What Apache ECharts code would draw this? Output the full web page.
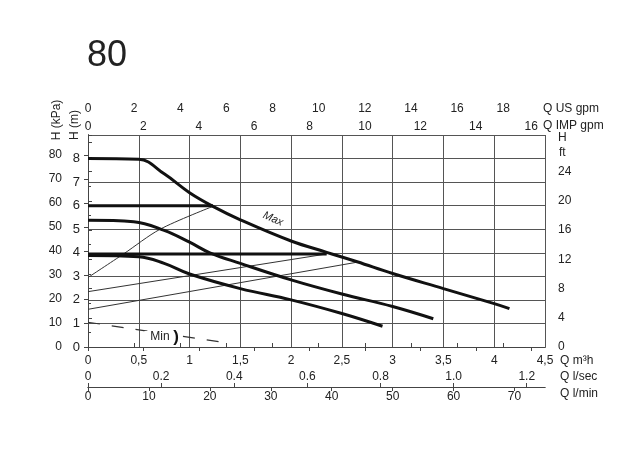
<!DOCTYPE html>
<html>
<head>
<meta charset="utf-8">
<script src="https://cdn.jsdelivr.net/npm/echarts@6/dist/echarts.min.js"></script>
<style>
  html, body { margin: 0; padding: 0; background: #fff; }
  #chart { width: 640px; height: 461px; }
</style>
</head>
<body>
<div id="chart"></div>
<script>
// pump curves, flow Q in m3/h, head H in m
const maxQ = [0, 0.5, 0.75, 1.0, 1.23, 1.5, 2.0, 2.35, 2.65, 3.0, 3.5, 4.0, 4.15];
const maxH = [8.0, 7.97, 7.35, 6.55, 5.97, 5.4, 4.5, 4.02, 3.62, 3.12, 2.48, 1.84, 1.63];
const midQ = [0, 0.45, 0.75, 1.0, 1.2, 1.5, 2.0, 2.5, 3.0, 3.4];
const midH = [5.38, 5.32, 4.95, 4.45, 4.0, 3.55, 2.85, 2.25, 1.72, 1.2];
const lowQ = [0, 0.5, 0.75, 1.0, 1.5, 2.0, 2.5, 2.9];
const lowH = [3.88, 3.83, 3.55, 3.1, 2.48, 2.0, 1.42, 0.88];

// constant pressure lines
const cp6Q = [0, 1.23];
const cp6H = [6.0, 6.0];
const cp4Q = [0, 2.35];
const cp4H = [3.95, 3.95];

// proportional pressure lines
const pp1Q = [0, 0.35, 0.71, 1.23];
const pp1H = [2.95, 3.95, 5.0, 5.97];
const pp2Q = [0, 2.35];
const pp2H = [2.35, 3.95];
const pp3Q = [0, 2.65];
const pp3H = [1.6, 3.6];

// min curve (dashed)
const minQ = [0, 1.33];
const minH = [1.05, 0.2];

// axis ranges (same span, other units)
const qMaxM3h = 4.5;
const hMaxM = 9;
const usGpmMax = 19.81;
const impGpmMax = 16.5;
const lsecMax = 1.25;
const lminMax = 75;
const kpaMax = 88.3;
const ftMax = 29;

const zip = (a, b) => a.map((v, i) => [v, b[i]]);

const FONT = "'Liberation Sans Narrow', 'Liberation Sans', Arial, sans-serif";
const TXT = '#222';
const GRIDC = '#555';

const chart = echarts.init(document.getElementById('chart'));

function thick(name, q, h) {
  return {
    name: name, type: 'line', data: zip(q, h),
    showSymbol: false, smooth: 0.4,
    lineStyle: { color: '#111', width: 3 }, z: 5
  };
}
function thin(name, q, h, smooth) {
  return {
    name: name, type: 'line', data: zip(q, h),
    showSymbol: false, smooth: smooth ? 0.3 : false,
    lineStyle: { color: '#333', width: 1 }, z: 4
  };
}

const labelBase = { color: TXT, fontFamily: FONT, fontSize: 12 };

chart.setOption({
  animation: false,
  backgroundColor: '#fff',
  grid: { left: 88, right: 95, top: 135, bottom: 114 },
  xAxis: [
    {
      type: 'value', min: 0, max: qMaxM3h, interval: 0.5, position: 'bottom',
      axisLine: { lineStyle: { color: '#333', width: 1 } },
      axisTick: { show: false },
      splitLine: { lineStyle: { color: GRIDC, width: 1 } },
      axisLabel: Object.assign({}, labelBase, { margin: 8, formatter: v => String(v).replace('.', ',') })
    },
    {
      type: 'value', min: 0, max: usGpmMax, interval: 2, position: 'top', offset: 17,
      axisLine: { show: true, lineStyle: { color: '#444' } },
      axisTick: { show: true, length: 4, lineStyle: { color: '#444' } },
      splitLine: { show: false },
      axisLabel: Object.assign({}, labelBase, { margin: 3, showMaxLabel: false })
    },
    {
      type: 'value', min: 0, max: impGpmMax, interval: 2, position: 'top', offset: 17,
      axisLine: { show: true, lineStyle: { color: '#444' } },
      axisTick: { show: true, inside: true, length: 4, lineStyle: { color: '#444' } },
      splitLine: { show: false },
      axisLabel: Object.assign({}, labelBase, { inside: true, margin: 3, showMaxLabel: false })
    },
    {
      type: 'value', min: 0, max: lsecMax, interval: 0.2, position: 'bottom', offset: 40,
      axisLine: { show: true, lineStyle: { color: '#444' } },
      axisTick: { show: true, inside: true, length: 4, lineStyle: { color: '#444' } },
      splitLine: { show: false },
      axisLabel: Object.assign({}, labelBase, {
        inside: true, margin: 4, showMaxLabel: false,
        formatter: v => (v === 0 ? '0' : v.toFixed(1))
      })
    },
    {
      type: 'value', min: 0, max: lminMax, interval: 10, position: 'bottom', offset: 40,
      axisLine: { show: true, lineStyle: { color: '#444' } },
      axisTick: { show: true, length: 4, lineStyle: { color: '#444' } },
      splitLine: { show: false },
      axisLabel: Object.assign({}, labelBase, { margin: 4, showMaxLabel: false })
    }
  ],
  yAxis: [
    {
      type: 'value', min: 0, max: hMaxM, interval: 1, position: 'left',
      axisLine: { show: true, lineStyle: { color: '#333' } },
      axisTick: { show: false },
      splitLine: { lineStyle: { color: GRIDC, width: 1 } },
      axisLabel: Object.assign({}, labelBase, { fontSize: 13, margin: 8, showMaxLabel: false })
    },
    {
      type: 'value', min: 0, max: kpaMax, interval: 10, position: 'left', offset: 20,
      axisLine: { show: true, lineStyle: { color: '#444' } },
      axisTick: { show: true, length: 4, lineStyle: { color: '#444' } },
      splitLine: { show: false },
      axisLabel: Object.assign({}, labelBase, { margin: 6, showMaxLabel: false })
    },
    {
      type: 'value', min: 0, max: ftMax, interval: 4, position: 'right', offset: 10,
      axisLine: { show: true, lineStyle: { color: '#444' } },
      axisTick: { show: true, length: 4, lineStyle: { color: '#444' } },
      minorTick: { show: true, splitNumber: 2, length: 3, lineStyle: { color: '#444' } },
      splitLine: { show: false },
      axisLabel: Object.assign({}, labelBase, { margin: 3, showMaxLabel: false, formatter: v => (v > 26 ? '' : String(v)) })
    }
  ],
  series: [
    thick('Max', maxQ, maxH),
    thick('Mid', midQ, midH),
    thick('Low', lowQ, lowH),
    thick('CP6', cp6Q, cp6H),
    thick('CP4', cp4Q, cp4H),
    thin('PP1', pp1Q, pp1H, true),
    thin('PP2', pp2Q, pp2H, false),
    thin('PP3', pp3Q, pp3H, false),
    {
      name: 'Min', type: 'line', data: zip(minQ, minH), showSymbol: false,
      lineStyle: { color: '#333', width: 1.2, type: [12, 12] }, z: 3
    }
  ],
  graphic: [
    { type: 'text', x: 87, y: 56, style: { text: '80', font: '300 36px ' + FONT, fill: TXT, textVerticalAlign: 'middle' } },
    { type: 'text', x: 57, y: 120, rotation: Math.PI / 2, style: { text: 'H (kPa)', font: '12px ' + FONT, fill: TXT, textAlign: 'center', textVerticalAlign: 'middle' } },
    { type: 'text', x: 75, y: 125, rotation: Math.PI / 2, style: { text: 'H (m)', font: '12px ' + FONT, fill: TXT, textAlign: 'center', textVerticalAlign: 'middle' } },
    { type: 'text', x: 543, y: 109, style: { text: 'Q US gpm', font: '12px ' + FONT, fill: TXT, textVerticalAlign: 'middle' } },
    { type: 'text', x: 543, y: 126, style: { text: 'Q IMP gpm', font: '12px ' + FONT, fill: TXT, textVerticalAlign: 'middle' } },
    { type: 'text', x: 558, y: 138, style: { text: 'H', font: '12px ' + FONT, fill: TXT, textVerticalAlign: 'middle' } },
    { type: 'text', x: 559, y: 153, style: { text: 'ft', font: '12px ' + FONT, fill: TXT, textVerticalAlign: 'middle' } },
    { type: 'text', x: 560, y: 361, style: { text: 'Q m³h', font: '12px ' + FONT, fill: TXT, textVerticalAlign: 'middle' } },
    { type: 'text', x: 560, y: 377, style: { text: 'Q l/sec', font: '12px ' + FONT, fill: TXT, textVerticalAlign: 'middle' } },
    { type: 'text', x: 560, y: 394, style: { text: 'Q l/min', font: '12px ' + FONT, fill: TXT, textVerticalAlign: 'middle' } },
    { type: 'text', x: 273, y: 219, rotation: -0.42, z: 10, style: { text: 'Max', font: 'italic 11px ' + FONT, fill: TXT, textAlign: 'center', textVerticalAlign: 'middle' } },
    { type: 'text', x: 160, y: 337, z: 10, style: { text: 'Min', font: '12px ' + FONT, fill: TXT, textAlign: 'center', textVerticalAlign: 'middle', backgroundColor: '#fff', padding: [0, 6, 0, 6] } },
    { type: 'text', x: 176, y: 337, z: 11, style: { text: ')', font: 'bold 17px ' + FONT, fill: '#111', textAlign: 'center', textVerticalAlign: 'middle' } }
  ]
});
</script>
</body>
</html>
